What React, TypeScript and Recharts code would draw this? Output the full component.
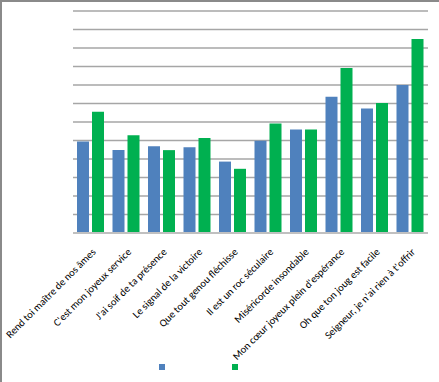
import React from "react";
import { BarChart, Bar, XAxis, YAxis, CartesianGrid, Legend } from "recharts";

const categories = [
  "Rend toi maître de nos âmes",
  "C'est mon joyeux service",
  "J'ai soif de ta présence",
  "Le signal de la victoire",
  "Que tout genou fléchisse",
  "Il est un roc séculaire",
  "Miséricorde insondable",
  "Mon cœur joyeux plein d'espérance",
  "Oh que ton joug est facile",
  "Seigneur, je n'ai rien à t'offrir",
];
const seriesA = [4.94, 4.48, 4.69, 4.64, 3.86, 4.98, 5.59, 7.36, 6.73, 8.0];
const seriesB = [6.56, 5.29, 4.48, 5.14, 3.47, 5.92, 5.59, 8.92, 7.03, 10.49];
const yTicks = [0, 1, 2, 3, 4, 5, 6, 7, 8, 9, 10, 11, 12];

const data = categories.map((c, i) => ({ name: c, a: seriesA[i], b: seriesB[i] }));

const FONT = "Carlito, Calibri, 'Open Sans', sans-serif";

const Tick = (props: any) => {
  const { x, y, payload } = props;
  return (
    <g transform={`translate(${x + 3},${y + 9})`}>
      <text
        textAnchor="end"
        transform="rotate(-45)"
        fontSize={10.5}
        fontFamily={FONT}
        fill="#000"
        dy="0.35em"
      >
        {payload.value}
      </text>
    </g>
  );
};

const LegendContent = () => (
  <div style={{ position: "relative", height: 19, width: 439 }}>
    <div style={{ position: "absolute", left: 159, top: 1, width: 6, height: 6, background: "#4F81BD" }} />
    <div style={{ position: "absolute", left: 232, top: 1, width: 6, height: 6, background: "#00B050" }} />
  </div>
);

export default function App() {
  return (
    <div
      style={{
        position: "absolute",
        left: 0,
        top: 0,
        width: 439,
        height: 382,
        boxSizing: "border-box",
        borderTop: "2px solid #8a8a8a",
        borderLeft: "2px solid #8a8a8a",
        background: "#fff",
      }}
    >
      <div style={{ position: "absolute", left: -2, top: -2 }}>
        <BarChart
          width={439}
          height={382}
          data={data}
          margin={{ top: 11, right: 11, left: 73, bottom: 0 }}
          barCategoryGap={4}
          barGap={3}
        >
          <CartesianGrid vertical={false} stroke="#a6a6a6" strokeWidth={1.5} />
          <YAxis hide domain={[0, 12]} ticks={yTicks} interval={0} />
          <XAxis
            dataKey="name"
            interval={0}
            height={130}
            tickLine={false}
            axisLine={{ stroke: "#c0c0c0", strokeWidth: 2 }}
            tick={<Tick />}
          />
          <Legend verticalAlign="bottom" content={<LegendContent />} wrapperStyle={{ left: 0, height: 19 }} />
          <Bar dataKey="a" fill="#4F81BD" isAnimationActive={false} />
          <Bar dataKey="b" fill="#00B050" isAnimationActive={false} />
        </BarChart>
      </div>
    </div>
  );
}
